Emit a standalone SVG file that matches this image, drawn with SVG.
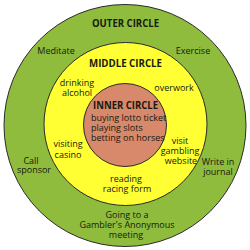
<svg xmlns="http://www.w3.org/2000/svg" width="250" height="250" viewBox="0 0 250 250">
<style>
.c{stroke:#2a2a2a;stroke-width:1}
text{font-family:"Open Sans","Liberation Sans",sans-serif;font-size:9px;font-weight:500;fill:#161a10;text-anchor:middle}
.h{font-weight:bold;font-size:10.5px}
.l{text-anchor:start}
</style>
<rect width="250" height="250" fill="#ffffff"/>
<g id="outer">
<circle class="c" cx="125" cy="125.5" r="121" fill="#8fbc3c"/>
<text class="h" x="125.5" y="26.5" textLength="67" lengthAdjust="spacingAndGlyphs">OUTER CIRCLE</text>
<text x="56" y="54">Meditate</text>
<text x="193" y="54">Exercise</text>
<text x="31" y="164">Call</text>
<text x="34" y="173">sponsor</text>
<text x="218" y="165">Write in</text>
<text x="218" y="175">journal</text>
<text x="127" y="218">Going to a</text>
<text x="127" y="228">Gambler's Anonymous</text>
<text x="126" y="238">meeting</text>
</g>
<g id="middle">
<circle class="c" cx="125.5" cy="124" r="81.5" fill="#ffff33"/>
<text class="h" x="125.5" y="66.5" textLength="73" lengthAdjust="spacingAndGlyphs">MIDDLE CIRCLE</text>
<text x="77" y="86">drinking</text>
<text x="77" y="96">alcohol</text>
<text x="174" y="91">overwork</text>
<text x="68" y="147">visiting</text>
<text x="68" y="158">casino</text>
<text x="180" y="144">visit</text>
<text x="180" y="154">gambling</text>
<text x="181" y="164">website</text>
<text x="126" y="182">reading</text>
<text x="127" y="192">racing form</text>
</g>
<g id="inner">
<circle class="c" cx="125" cy="125" r="41.5" fill="#d8886b"/>
<text class="h" x="125.5" y="108.5" textLength="65" lengthAdjust="spacingAndGlyphs">INNER CIRCLE</text>
<text class="l" x="91" y="121">buying lotto ticket</text>
<text class="l" x="91" y="131">playing slots</text>
<text class="l" x="91" y="141">betting on horses</text>
</g>
<g id="connectors"/>
</svg>
